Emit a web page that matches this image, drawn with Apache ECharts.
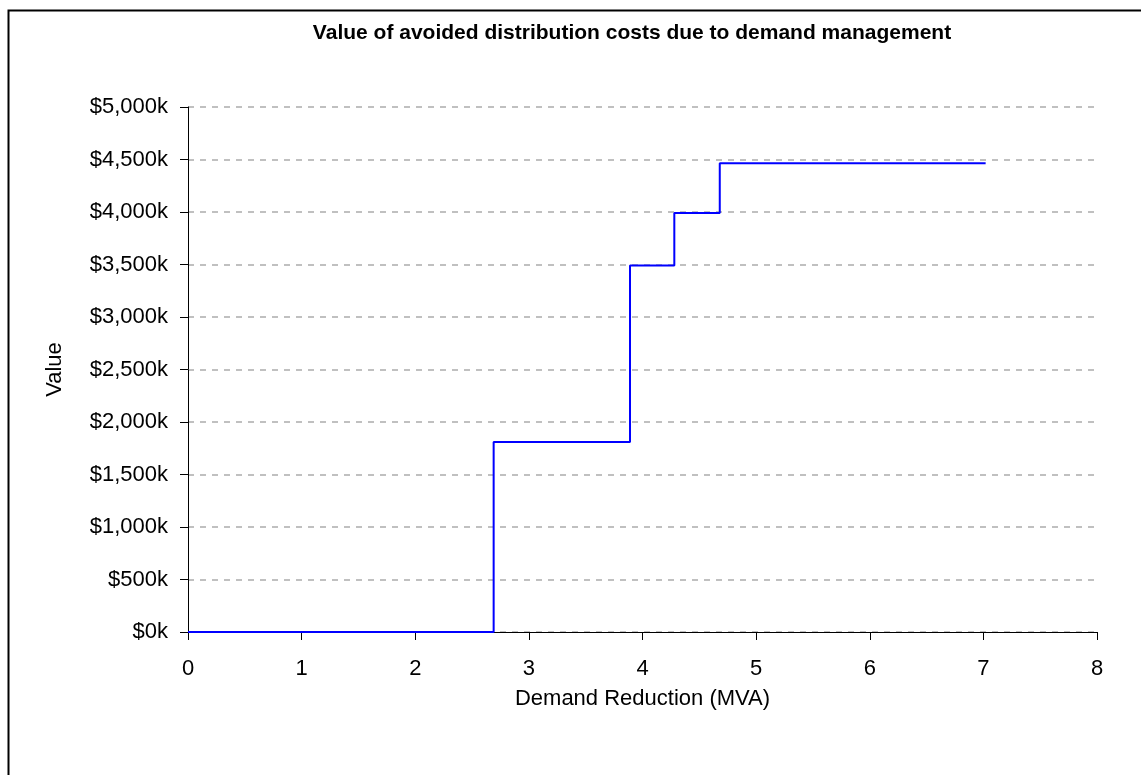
<!DOCTYPE html>
<html>
<head>
<meta charset="utf-8">
<script src="https://cdn.jsdelivr.net/npm/echarts@6/dist/echarts.min.js"></script>
<style>
html, body { margin: 0; padding: 0; background: #fff; }
#chart { width: 1141px; height: 775px; }
</style>
</head>
<body>
<div id="chart"></div>
<script>
// step points: demand reduction (MVA) -> avoided cost ($k)
var demandMVA = [0, 2.69, 3.89, 4.28, 4.68, 7.02];
var valueK = [0, 1810, 3490, 3990, 4465, 4465];
var xTicks = [0, 1, 2, 3, 4, 5, 6, 7, 8];
var yTicks = [0, 500, 1000, 1500, 2000, 2500, 3000, 3500, 4000, 4500, 5000];

var chart = echarts.init(document.getElementById('chart'));

var pts = [];
for (var i = 0; i < demandMVA.length; i++) {
	pts.push([demandMVA[i], valueK[i]]);
}

var fontName = '"Liberation Sans", Arial, sans-serif';

chart.setOption({
	animation: false,
	backgroundColor: '#ffffff',
	title: {
		text: 'Value of avoided distribution costs due to demand management',
		left: 627,
		top: 18,
		textAlign: 'center',
		textStyle: {
			fontFamily: fontName,
			fontWeight: 'bold',
			fontSize: 21,
			color: '#000'
		}
	},
	// outer frame (only top/left edges are inside the picture)
	graphic: [{
		type: 'rect',
		left: 6,
		top: 8,
		shape: { width: 1300, height: 900 },
		style: { fill: 'none', stroke: '#000', lineWidth: 2 },
		silent: true
	}],
	grid: {
		left: 188,
		right: 44,
		top: 107,
		bottom: 143
	},
	xAxis: {
		type: 'value',
		min: xTicks[0],
		max: xTicks[xTicks.length - 1],
		interval: 1,
		name: 'Demand Reduction (MVA)',
		nameLocation: 'middle',
		nameGap: 56,
		nameTextStyle: { fontFamily: fontName, fontSize: 22, color: '#000' },
		axisLine: { lineStyle: { color: '#000', width: 1 } },
		axisTick: { show: true, length: 8, lineStyle: { color: '#000' } },
		axisLabel: {
			margin: 26,
			fontFamily: fontName,
			fontSize: 22,
			color: '#000'
		},
		splitLine: { show: false }
	},
	yAxis: {
		type: 'value',
		min: yTicks[0],
		max: yTicks[yTicks.length - 1],
		interval: 500,
		name: 'Value',
		nameLocation: 'middle',
		nameGap: 122,
		nameTextStyle: { fontFamily: fontName, fontSize: 22, color: '#000' },
		axisLine: { show: true, lineStyle: { color: '#000', width: 1 } },
		axisTick: { show: true, length: 8, lineStyle: { color: '#000' } },
		axisLabel: {
			margin: 20,
			fontFamily: fontName,
			fontSize: 22,
			color: '#000',
			formatter: function (v) {
				return '$' + v.toLocaleString('en-US') + 'k';
			}
		},
		splitLine: {
			show: true,
			lineStyle: { color: '#c0c0c0', width: 2, type: [6, 6] }
		}
	},
	series: [{
		name: 'Value',
		type: 'line',
		step: 'end',
		data: pts,
		showSymbol: false,
		lineStyle: { color: '#0000ff', width: 2 },
		itemStyle: { color: '#0000ff' }
	}]
});
</script>
</body>
</html>
